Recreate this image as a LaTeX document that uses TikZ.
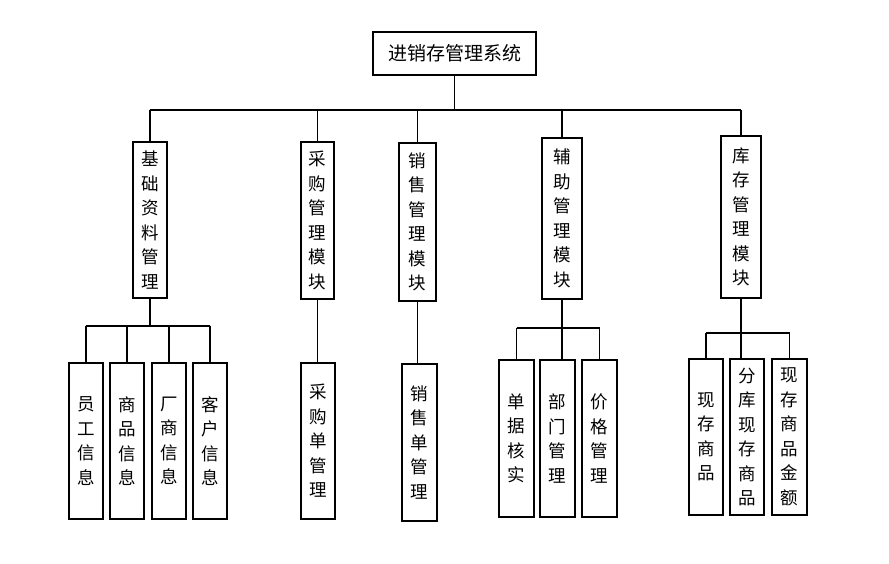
\documentclass[tikz,border=0pt]{standalone}
\usepackage{fontspec}
\newfontfamily\cjk{Noto Sans CJK SC}
\tikzset{
  box/.style={draw, line width=1.1pt, inner sep=0pt, align=center,
    font=\cjk\fontsize{17.5}{24.5}\selectfont},
  vbox/.style={box, minimum width=34pt, minimum height=156pt},
  conn/.style={line width=1.1pt}
}
\begin{document}
\begin{tikzpicture}[x=1pt,y=-1pt]
\useasboundingbox (0,0) rectangle (889,564);
\fill[white] (0,0) rectangle (889,564);
% top
\node[box, minimum width=163pt, minimum height=43pt, font=\cjk\fontsize{19}{22}\selectfont] (top) at (454.5,53.5) {进销存管理系统};
% level 1
\node[vbox, minimum height=156pt] (m1) at (150,220) {基\\础\\资\\料\\管\\理};
\node[vbox, minimum width=33pt, minimum height=157pt] (m2) at (317.5,220.5) {采\\购\\管\\理\\模\\块};
\node[vbox, minimum width=37pt, minimum height=158pt] (m3) at (417.5,222) {销\\售\\管\\理\\模\\块};
\node[vbox, minimum width=40pt, minimum height=161pt] (m4) at (562,218.5) {辅\\助\\管\\理\\模\\块};
\node[vbox, minimum width=40pt, minimum height=162pt] (m5) at (741,217) {库\\存\\管\\理\\模\\块};
% level 2
\node[vbox] (a1) at (86,441) {员\\工\\信\\息};
\node[vbox] (a2) at (127,441) {商\\品\\信\\息};
\node[vbox] (a3) at (169,441) {厂\\商\\信\\息};
\node[vbox] (a4) at (210,441) {客\\户\\信\\息};
\node[vbox] (b1) at (318,441) {采\\购\\单\\管\\理};
\node[vbox, minimum width=35pt, minimum height=157pt] (c1) at (419.5,442.5) {销\\售\\单\\管\\理};
\node[vbox, minimum width=35pt, minimum height=157pt] (d1) at (516.5,438.5) {单\\据\\核\\实};
\node[vbox, minimum width=35pt, minimum height=157pt] (d2) at (557.5,438.5) {部\\门\\管\\理};
\node[vbox, minimum width=35pt, minimum height=157pt] (d3) at (599.5,438.5) {价\\格\\管\\理};
\node[vbox] (e1) at (706,437) {现\\存\\商\\品};
\node[vbox] (e2) at (747,437) {分\\库\\现\\存\\商\\品};
\node[vbox, minimum width=35pt] (e3) at (789.5,437) {现\\存\\商\\品\\金\\额};
% top bus
\coordinate (busY) at (0,110);
\draw[conn] (top.south) -- (top.south |- busY);
\draw[conn] (m1.north |- busY) -- (m5.north |- busY);
\foreach \m in {m1,m2,m3,m4,m5} \draw[conn] (\m.north) -- (\m.north |- busY);
% group a
\coordinate (aY) at (0,326);
\draw[conn] (m1.south) -- (m1.south |- aY);
\draw[conn] (a1.north |- aY) -- (a4.north |- aY);
\foreach \n in {a1,a2,a3,a4} \draw[conn] (\n.north) -- (\n.north |- aY);
% single
\draw[conn] (m2.south) -- (m2.south |- b1.north);
\draw[conn] (m3.south) -- (m3.south |- c1.north);
% group d
\coordinate (dY) at (0,328);
\draw[conn] (m4.south) -- (m4.south |- dY);
\draw[conn] (d1.north |- dY) -- (d3.north |- dY);
\draw[conn] (d1.north) -- (d1.north |- dY);
\draw[conn] (d3.north) -- (d3.north |- dY);
\draw[conn] (m4.south |- dY) -- (m4.south |- d2.north);
% group e
\coordinate (eY) at (0,333);
\draw[conn] (m5.south) -- (m5.south |- e2.north);
\draw[conn] (e1.north |- eY) -- (e3.north |- eY);
\draw[conn] (e1.north) -- (e1.north |- eY);
\draw[conn] (e3.north) -- (e3.north |- eY);
\end{tikzpicture}
\end{document}
